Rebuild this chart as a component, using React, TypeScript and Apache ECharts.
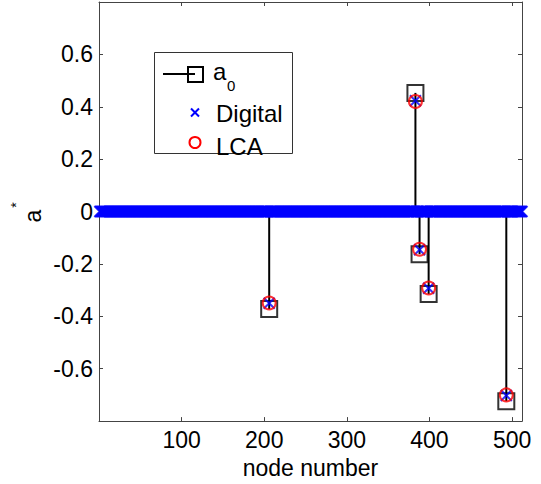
import React, { useEffect, useRef } from 'react';
import * as echarts from 'echarts';

// ---- data ----
const nodeCount = 512;
const spikeNodes = [206, 383, 388, 399, 493];
const a0Values = [-0.372, 0.453, -0.163, -0.315, -0.724];
const digitalSpikes = [-0.35, 0.423, -0.146, -0.293, -0.702];
const lcaValues = [-0.349, 0.42, -0.144, -0.292, -0.7];
const xTickLabels = [100, 200, 300, 400, 500];
const yTickLabels = [-0.6, -0.4, -0.2, 0, 0.2, 0.4, 0.6];

const FONT = '"Liberation Sans", Arial, Helvetica, sans-serif';
const AXIS_COLOR = '#444';
const CROSS = 'path://M0,0L10,10M0,10L10,0';

export default function App() {
  const ref = useRef<HTMLDivElement>(null);

  useEffect(() => {
    document.body.style.margin = '0';
    if (!ref.current) return;
    const chart = echarts.init(ref.current, undefined, { renderer: 'svg' });

    const a0Data = spikeNodes.map((n, i) => [n, a0Values[i]]);
    const lcaData = spikeNodes.map((n, i) => [n, lcaValues[i]]);
    const digitalData: number[][] = [];
    for (let n = 1; n <= nodeCount; n++) {
      const k = spikeNodes.indexOf(n);
      digitalData.push([n, k >= 0 ? digitalSpikes[k] : 0]);
    }

    const xFmt = (v: number) => (xTickLabels.includes(Math.round(v)) && Math.abs(v - Math.round(v)) < 1e-6 ? String(Math.round(v)) : '');
    const yFmt = (v: number) => {
      const r = Math.round(v * 10) / 10;
      if (!yTickLabels.some((t) => Math.abs(t - r) < 1e-6)) return '';
      return r === 0 ? '0' : r.toFixed(1);
    };

    const commonX = {
      type: 'value' as const,
      min: 0,
      max: 512,
      interval: 100,
      splitLine: { show: false },
      axisLine: { show: true, onZero: false, lineStyle: { color: AXIS_COLOR, width: 1 } },
      axisTick: { show: true, inside: true, length: 4, lineStyle: { color: AXIS_COLOR } },
    };
    const commonY = {
      type: 'value' as const,
      min: -0.8,
      max: 0.8,
      interval: 0.2,
      splitLine: { show: false },
      axisLine: { show: true, onZero: false, lineStyle: { color: AXIS_COLOR, width: 1 } },
      axisTick: { show: true, inside: true, length: 4, lineStyle: { color: AXIS_COLOR } },
    };

    chart.setOption({
      animation: false,
      backgroundColor: '#fff',
      grid: { left: 99, right: 19, top: 2, bottom: 60, containLabel: false },
      xAxis: [
        {
          ...commonX,
          position: 'bottom',
          axisLabel: { color: '#000', fontSize: 23, fontFamily: FONT, margin: 7, formatter: xFmt },
          name: 'node number',
          nameLocation: 'middle',
          nameGap: 33,
          nameTextStyle: { color: '#000', fontSize: 23, fontFamily: FONT },
        },
        { ...commonX, position: 'top', axisLabel: { show: false } },
      ],
      yAxis: [
        {
          ...commonY,
          position: 'left',
          axisLabel: { color: '#000', fontSize: 23, fontFamily: FONT, margin: 6, formatter: yFmt },
        },
        { ...commonY, position: 'right', axisLabel: { show: false } },
      ],
      series: [
        {
          name: 'a0 stems',
          type: 'custom',
          silent: true,
          data: a0Data,
          renderItem: (params: any, api: any) => {
            const x = api.value(0);
            const y = api.value(1);
            const p0 = api.coord([x, 0]);
            const p1 = api.coord([x, y]);
            return {
              type: 'line',
              shape: { x1: p0[0], y1: p0[1], x2: p1[0], y2: p1[1] },
              style: { stroke: '#000', lineWidth: 2 },
            };
          },
          z: 2,
        },
        {
          name: 'a0',
          type: 'scatter',
          silent: true,
          data: a0Data,
          symbol: 'rect',
          symbolSize: 16,
          itemStyle: { color: 'rgba(0,0,0,0)', borderColor: '#000', borderWidth: 2 },
          z: 3,
        },
        {
          name: 'Digital',
          type: 'scatter',
          silent: true,
          data: digitalData,
          symbol: CROSS,
          symbolSize: 11,
          clip: false,
          itemStyle: { color: '#0000ff', borderColor: '#0000ff', borderWidth: 2 },
          z: 4,
        },
        {
          name: 'LCA',
          type: 'scatter',
          silent: true,
          data: lcaData,
          symbol: 'circle',
          symbolSize: 13,
          itemStyle: { color: 'rgba(0,0,0,0)', borderColor: '#ff0000', borderWidth: 2 },
          z: 5,
        },
      ],
      graphic: [
        // y-axis name a*
        {
          type: 'text',
          x: 33,
          y: 216,
          rotation: Math.PI / 2,
          style: { text: 'a', fontSize: 23, fontFamily: FONT, fill: '#000', align: 'center', verticalAlign: 'middle' },
        },
        {
          type: 'text',
          x: 16,
          y: 205,
          rotation: Math.PI / 2,
          style: { text: '*', fontSize: 14, fontFamily: FONT, fill: '#000', align: 'center', verticalAlign: 'middle' },
        },
        // legend
        {
          type: 'group',
          z: 100,
          children: [
            {
              type: 'rect',
              shape: { x: 154.5, y: 52.5, width: 138, height: 101 },
              style: { fill: '#fff', stroke: '#333', lineWidth: 1 },
            },
            {
              type: 'line',
              shape: { x1: 163, y1: 74, x2: 195, y2: 74 },
              style: { stroke: '#000', lineWidth: 2 },
            },
            {
              type: 'rect',
              shape: { x: 188, y: 67, width: 15, height: 15 },
              style: { fill: 'rgba(0,0,0,0)', stroke: '#000', lineWidth: 2 },
            },
            {
              type: 'text',
              x: 213,
              y: 71,
              style: { text: 'a', fontSize: 24, fontFamily: FONT, fill: '#000', align: 'left', verticalAlign: 'middle' },
            },
            {
              type: 'text',
              x: 227,
              y: 85,
              style: { text: '0', fontSize: 15, fontFamily: FONT, fill: '#000', align: 'left', verticalAlign: 'middle' },
            },
            {
              type: 'line',
              shape: { x1: 191, y1: 108.5, x2: 199, y2: 116.5 },
              style: { stroke: '#0000ff', lineWidth: 2 },
            },
            {
              type: 'line',
              shape: { x1: 191, y1: 116.5, x2: 199, y2: 108.5 },
              style: { stroke: '#0000ff', lineWidth: 2 },
            },
            {
              type: 'text',
              x: 216,
              y: 113,
              style: { text: 'Digital', fontSize: 24, fontFamily: FONT, fill: '#000', align: 'left', verticalAlign: 'middle' },
            },
            {
              type: 'circle',
              shape: { cx: 195, cy: 142.5, r: 5.5 },
              style: { fill: 'rgba(0,0,0,0)', stroke: '#ff0000', lineWidth: 2 },
            },
            {
              type: 'text',
              x: 216,
              y: 146,
              style: { text: 'LCA', fontSize: 24, fontFamily: FONT, fill: '#000', align: 'left', verticalAlign: 'middle' },
            },
          ],
        },
      ],
    });

    return () => chart.dispose();
  }, []);

  return (
    <div
      ref={ref}
      style={{ position: 'fixed', left: 0, top: 0, width: 541, height: 484, background: '#fff' }}
    />
  );
}
